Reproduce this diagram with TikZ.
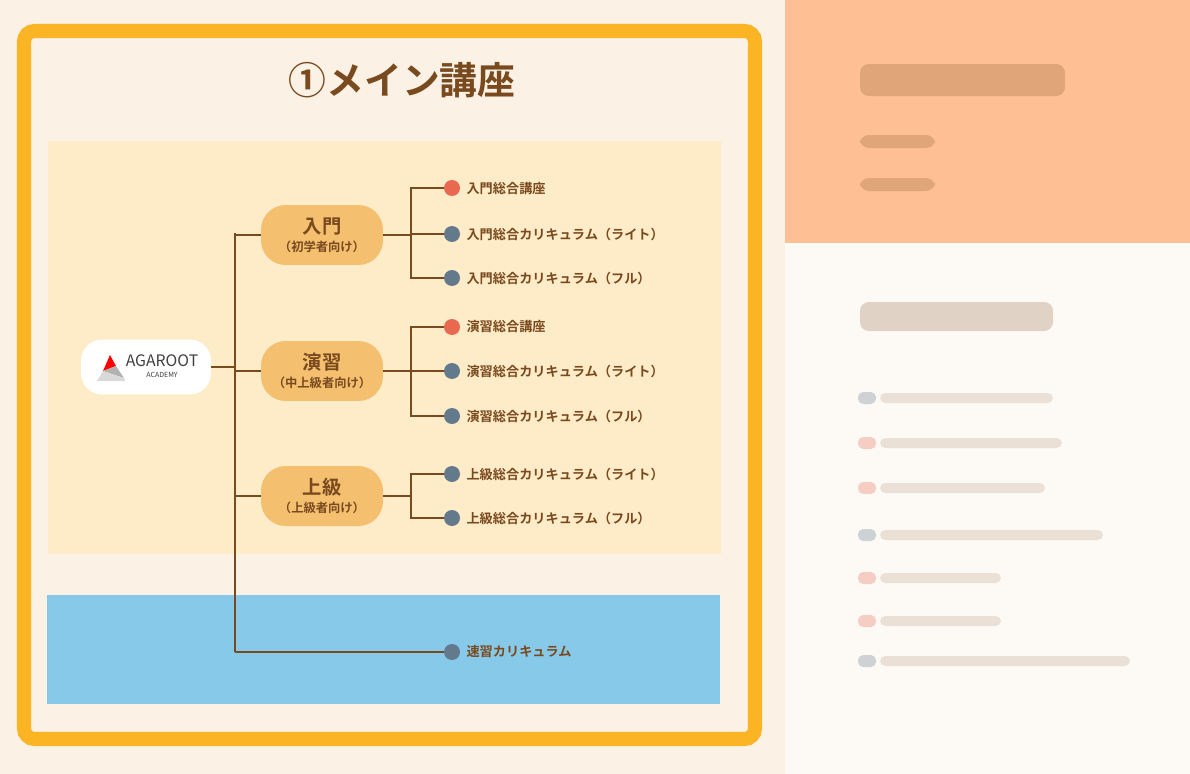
\documentclass[tikz,border=0pt]{standalone}
\usepackage{fontspec}
\setmainfont{Noto Sans CJK JP}
\newfontfamily\jpbold{Noto Sans CJK JP Bold}
\usetikzlibrary{positioning}
\definecolor{brn}{HTML}{7A4A1F}
\definecolor{pagebg}{HTML}{FBF1E4}
\definecolor{frame}{HTML}{FBB424}
\definecolor{panel}{HTML}{FEEBC8}
\definecolor{sky}{HTML}{87C9E9}
\definecolor{cat}{HTML}{F4C070}
\definecolor{reddot}{HTML}{E8694F}
\definecolor{graydot}{HTML}{627A8C}
\definecolor{peach}{HTML}{FFBF94}
\begin{document}
\begin{tikzpicture}[x=0.02cm,y=-0.02cm,
    catbox/.style={rounded corners=14pt,fill=cat,minimum width=2.44cm,minimum height=1.2cm,align=center,text=brn,font=\jpbold\fontsize{11}{12}\selectfont},
    leaf/.style={right=0pt,text=brn,font=\jpbold\fontsize{7.5}{8}\selectfont},
    rdot/.style={circle,fill=reddot,inner sep=0pt,minimum size=0.32cm},
    gdot/.style={circle,fill=graydot,inner sep=0pt,minimum size=0.32cm},
    link/.style={draw=brn,line width=1pt},
    blur/.style={rounded corners=5pt,opacity=0.22}]
\useasboundingbox (0,0) rectangle (1190,774);
\fill[pagebg] (0,0) rectangle (1190,774);
% right side panels
\fill[peach] (785,0) rectangle (1190,243);
\fill[white!60!pagebg] (785,243) rectangle (1190,774);
\fill[brn,blur] (860,64) rectangle (1065,96);
\fill[brn,blur] (860,135) rectangle (935,148);
\fill[brn,blur] (860,178) rectangle (935,191);
\fill[brn,blur] (860,302) rectangle (1053,331);
\foreach \y/\w/\c in {398/1053/graydot,443/1062/reddot,488/1045/reddot,535/1103/graydot,578/1001/reddot,621/1001/reddot,661/1130/graydot}{
  \fill[\c,opacity=0.3,rounded corners=3pt] (858,\y-6) rectangle (876,\y+6);
  \fill[brn,opacity=0.14,rounded corners=3pt] (880,\y-5) rectangle (\w,\y+5);
}
% main frame
\draw[frame,line width=8pt,fill=pagebg,rounded corners=6pt] (24,31) rectangle (755,739);
\node[text=brn,font=\jpbold\fontsize{21.5}{24}\selectfont] (title) at (402,80) {①メイン講座};
\fill[panel] (48,141) rectangle (721,554);
\fill[sky] (47,595) rectangle (720,704);
% logo
\node[fill=white,rounded corners=12pt,minimum width=2.6cm,minimum height=1.1cm] (logo) at (146,367) {};
\fill[red] (110,355) -- (103,371) -- (116,366) -- cycle;
\fill[gray!60] (103,371) -- (116,366) -- (124,378) -- cycle;
\fill[gray!30] (97,381) -- (103,371) -- (124,378) -- (125,381) -- cycle;
\node[font=\fontsize{9}{10}\selectfont,text=black!75] (logotxt) at (162,361) {AGAROOT};
\node[font=\fontsize{4}{5}\selectfont,text=black!75] (logosub) at (162,375) {ACADEMY};
% categories
\node[catbox] (intro) at (322,235) {入門\\[-2pt]{\fontsize{7}{8}\selectfont（初学者向け）}};
\node[catbox] (drill) at (322,371) {演習\\[-2pt]{\fontsize{7}{8}\selectfont（中上級者向け）}};
\node[catbox] (adv) at (322,496) {上級\\[-2pt]{\fontsize{7}{8}\selectfont（上級者向け）}};
\coordinate (top) at (235,233);
\coordinate (bot) at (235,652);
\draw[link] (top) -- (bot);
\draw[link] (logo.east) -- (235,367);
\draw[link] (235,235) -- (intro.west);
\draw[link] (235,371) -- (drill.west);
\draw[link] (235,496) -- (adv.west);
% leaves
\node[rdot] (i1) at (452,188) {}; \node[leaf] at (i1.east) {入門総合講座};
\node[gdot] (i2) at (452,234) {}; \node[leaf] at (i2.east) {入門総合カリキュラム（ライト）};
\node[gdot] (i3) at (452,278) {}; \node[leaf] at (i3.east) {入門総合カリキュラム（フル）};
\node[rdot] (d1) at (452,327) {}; \node[leaf] at (d1.east) {演習総合講座};
\node[gdot] (d2) at (452,371) {}; \node[leaf] at (d2.east) {演習総合カリキュラム（ライト）};
\node[gdot] (d3) at (452,416) {}; \node[leaf] at (d3.east) {演習総合カリキュラム（フル）};
\node[gdot] (a1) at (452,474) {}; \node[leaf] at (a1.east) {上級総合カリキュラム（ライト）};
\node[gdot] (a2) at (452,518) {}; \node[leaf] at (a2.east) {上級総合カリキュラム（フル）};
\node[gdot] (s1) at (452,652) {}; \node[leaf] at (s1.east) {速習カリキュラム};
\draw[link] (intro.east) -- (411,235);
\draw[link] (i1.west) -| (411,278) -- (i3.west);
\draw[link] (411,234) -- (i2.west);
\draw[link] (drill.east) -- (411,371);
\draw[link] (d1.west) -| (411,416) -- (d3.west);
\draw[link] (411,371) -- (d2.west);
\draw[link] (adv.east) -- (411,496);
\draw[link] (a1.west) -| (411,518) -- (a2.west);
\draw[link] (bot) -- (s1.west);
\end{tikzpicture}
\end{document}
